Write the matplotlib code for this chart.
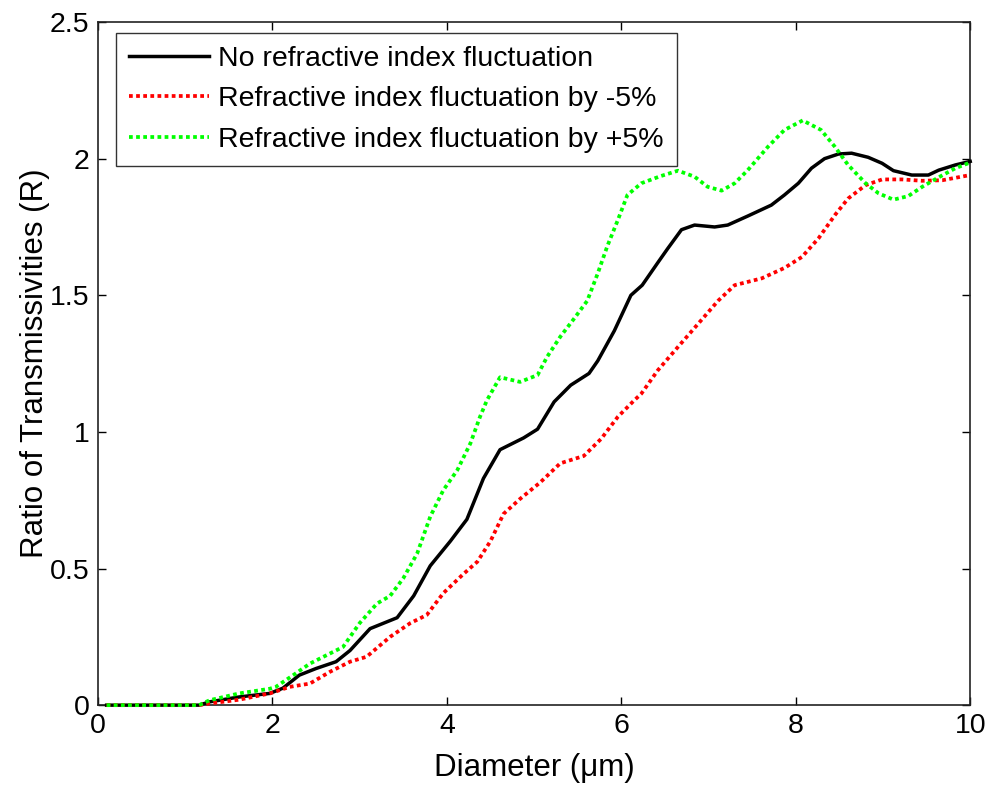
import matplotlib
matplotlib.use("Agg")
import matplotlib.pyplot as plt

plt.rcParams['font.family'] = ['Liberation Sans', 'DejaVu Sans']

x_none = [0.1, 0.5, 1.0, 1.16, 1.28, 1.62, 1.97, 2.12, 2.31, 2.50, 2.73, 2.89, 3.12, 3.43, 3.62,
          3.81, 4.04, 4.23, 4.42, 4.61, 4.88, 5.04, 5.23, 5.42, 5.63, 5.73, 5.92, 6.11, 6.24,
          6.42, 6.53, 6.69, 6.84, 7.07, 7.22, 7.45, 7.72, 7.87, 8.03, 8.18, 8.33, 8.49, 8.64,
          8.83, 8.99, 9.12, 9.33, 9.52, 9.64, 9.83, 10.0]
y_none = [0, 0, 0, 0, 0.012, 0.03, 0.043, 0.062, 0.11, 0.134, 0.159, 0.20, 0.28, 0.32, 0.40,
          0.51, 0.60, 0.68, 0.83, 0.935, 0.978, 1.01, 1.11, 1.171, 1.214, 1.26, 1.37, 1.50, 1.537,
          1.62, 1.67, 1.74, 1.757, 1.75, 1.757, 1.79, 1.83, 1.867, 1.91, 1.965, 2.00, 2.017, 2.02,
          2.005, 1.983, 1.956, 1.94, 1.94, 1.958, 1.977, 1.99]

x_minus = [0.1, 0.5, 1.0, 1.16, 1.28, 1.62, 1.97, 2.20, 2.43, 2.66, 2.89, 3.08, 3.35, 3.58, 3.77,
           3.96, 4.19, 4.35, 4.50, 4.65, 4.84, 5.07, 5.30, 5.42, 5.57, 5.77, 5.96, 6.15, 6.23,
           6.42, 6.65, 6.92, 7.11, 7.30, 7.61, 7.87, 8.07, 8.26, 8.45, 8.60, 8.80, 8.99, 9.22,
           9.45, 9.68, 10.0]
y_minus = [0, 0, 0, 0, 0.006, 0.02, 0.043, 0.067, 0.079, 0.122, 0.159, 0.177, 0.25, 0.30, 0.33,
           0.41, 0.48, 0.525, 0.60, 0.70, 0.755, 0.815, 0.885, 0.897, 0.912, 0.975, 1.055, 1.116, 1.14,
           1.226, 1.311, 1.41, 1.48, 1.537, 1.562, 1.60, 1.64, 1.708, 1.794, 1.854, 1.903, 1.924, 1.924,
           1.919, 1.921, 1.94]

x_plus = [0.1, 0.5, 1.0, 1.16, 1.28, 1.62, 1.97, 2.04, 2.24, 2.43, 2.66, 2.81, 3.00, 3.20, 3.35,
          3.50, 3.66, 3.81, 3.96, 4.12, 4.27, 4.38, 4.46, 4.61, 4.84, 5.04, 5.15, 5.30, 5.46,
          5.61, 5.73, 5.84, 5.96, 6.07, 6.23, 6.45, 6.65, 6.84, 6.99, 7.15, 7.30, 7.45, 7.68,
          7.87, 8.08, 8.29, 8.45, 8.60, 8.80, 8.95, 9.12, 9.29, 9.45, 9.64, 9.83, 10.0]
y_plus = [0, 0, 0, 0, 0.018, 0.043, 0.06, 0.067, 0.11, 0.152, 0.189, 0.213, 0.30, 0.372, 0.40,
          0.464, 0.555, 0.69, 0.787, 0.86, 0.958, 1.055, 1.116, 1.20, 1.183, 1.208, 1.275, 1.348, 1.415,
          1.48, 1.58, 1.68, 1.775, 1.867, 1.91, 1.936, 1.956, 1.934, 1.897, 1.883, 1.91, 1.958, 2.043,
          2.105, 2.14, 2.105, 2.043, 1.977, 1.91, 1.873, 1.85, 1.863, 1.897, 1.932, 1.965, 1.986]

labels = ["No refractive index fluctuation",
          "Refractive index fluctuation by -5%",
          "Refractive index fluctuation by +5%"]
x_ticks = [0, 2, 4, 6, 8, 10]
y_ticks = [0, 0.5, 1, 1.5, 2, 2.5]

fig = plt.figure(figsize=(9.89, 7.87), dpi=100)
ax = fig.add_axes([0.099, 0.104, 0.882, 0.868])

dot = (0, (1.0, 0.9))
ax.plot(x_none, y_none, color='black', lw=2.5, label=labels[0], clip_on=False, zorder=3)
ax.plot(x_minus, y_minus, color='#ff0000', lw=2.7, linestyle=dot, dash_capstyle='butt',
        label=labels[1], clip_on=False, zorder=3)
ax.plot(x_plus, y_plus, color='#00ff00', lw=2.7, linestyle=dot, dash_capstyle='butt',
        label=labels[2], clip_on=False, zorder=3)

ax.set_xlim(0, 10)
ax.set_ylim(0, 2.5)
ax.set_xticks(x_ticks)
ax.set_xticklabels([str(t) for t in x_ticks])
ax.set_yticks(y_ticks)
ax.set_yticklabels(['0', '0.5', '1', '1.5', '2', '2.5'])
ax.tick_params(direction='in', top=True, right=True, length=6, width=1, labelsize=20.5, pad=6)
for s in ax.spines.values():
    s.set_linewidth(1.2)
    s.set_color('#222222')

ax.set_xlabel("Diameter (\u03bcm)", fontsize=22.5, labelpad=10)
ax.set_ylabel("Ratio of Transmissivities (R)", fontsize=22.5, labelpad=0)

leg = ax.legend(loc='upper left', bbox_to_anchor=(0.021, 0.984), fontsize=20.5, frameon=True,
                fancybox=False, edgecolor='black', handlelength=2.8, handletextpad=0.32,
                borderpad=0.46, labelspacing=0.5, borderaxespad=0.0)
leg.get_frame().set_linewidth(1.0)
leg.set_zorder(5)

fig.savefig("out.png", dpi=100)
